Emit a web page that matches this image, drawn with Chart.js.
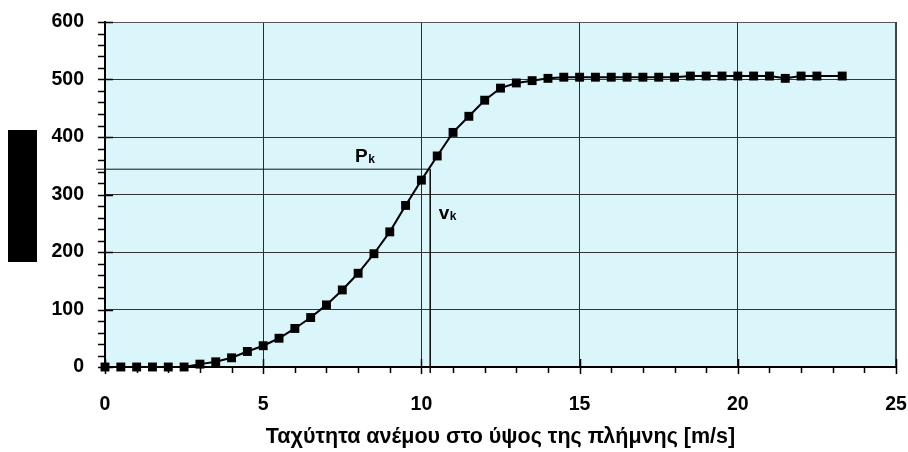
<!DOCTYPE html>
<html>
<head>
<meta charset="utf-8">
<script src="https://cdn.jsdelivr.net/npm/chart.js@4.4.1/dist/chart.umd.min.js"></script>
<style>
  html, body { margin: 0; padding: 0; background: #fff; }
  #wrap { width: 908px; height: 452px; }
</style>
</head>
<body>
<div id="wrap"><canvas id="powerCurve" width="908" height="452"></canvas></div>
<script>
// wind speed at hub height [m/s] and power [kW]
var speeds = [0, 0.5, 1, 1.5, 2, 2.5, 3, 3.5, 4, 4.5, 5, 5.5, 6, 6.5, 7, 7.5, 8, 8.5, 9, 9.5,
  10, 10.5, 11, 11.5, 12, 12.5, 13, 13.5, 14, 14.5, 15, 15.5, 16, 16.5, 17, 17.5, 18, 18.5,
  19, 19.5, 20, 20.5, 21, 21.5, 22, 22.5, 23.3];
var power = [0, 0, 0, 0, 0, 0, 5, 9, 16, 27, 37, 50, 67, 86, 108, 134, 163, 197, 235, 281,
  325, 367, 408, 436, 464, 485, 494, 498, 502, 504, 504, 504, 504, 504, 504, 504, 504, 506,
  506, 506, 506, 506, 506, 502, 506, 506, 506];

// P_k / v_k guide lines
var pkLineX = [-0.28, 10.28];
var pkLineY = [344, 344];
var vkLineX = [10.28, 10.28];
var vkLineY = [344, -10];

var xTicks = [0, 5, 10, 15, 20, 25];
var yTicks = [0, 100, 200, 300, 400, 500, 600];
var xTitle = 'Ταχύτητα ανέμου στο ύψος της πλήμνης [m/s]';
var yTitle = 'Ισχύς [kW]';

// label text, subscript, x value, y value (baseline)
var markLabels = [
  ['P', 'k', 7.9, 356],
  ['v', 'k', 10.55, 257]
];

function toPoints(xs, ys) {
  return xs.map(function(x, i) { return {x: x, y: ys[i]}; });
}

var FONT = '"Liberation Sans", Arial, sans-serif';

function noPad(s) {
  s.paddingLeft = 0; s.paddingRight = 0; s.paddingTop = 0; s.paddingBottom = 0;
}

var plotBackground = {
  id: 'plotBackground',
  beforeDraw: function(chart) {
    var a = chart.chartArea, ctx = chart.ctx;
    ctx.save();
    ctx.fillStyle = '#dbf6fa';
    ctx.fillRect(a.left, a.top, a.right - a.left, a.bottom - a.top);
    // covered y axis title box
    ctx.fillStyle = '#000';
    ctx.fillRect(8, 130, 29, 132);
    ctx.restore();
  }
};

var axisTicks = {
  id: 'axisTicks',
  afterDraw: function(chart) {
    var ctx = chart.ctx, a = chart.chartArea;
    var xs = chart.scales.x, ys = chart.scales.y;
    ctx.save();
    ctx.strokeStyle = '#000';
    ctx.lineWidth = 1.5;
    ctx.beginPath();
    for (var v = 0; v <= 600; v += 20) {
      var py = Math.round(ys.getPixelForValue(v)) + 0.5;
      if (v % 100 === 0) { ctx.moveTo(a.left - 7, py); ctx.lineTo(a.left + 8, py); }
      else { ctx.moveTo(a.left - 7, py); ctx.lineTo(a.left, py); }
    }
    for (var u = 0; u <= 25; u++) {
      var px = Math.round(xs.getPixelForValue(u)) + 0.5;
      if (u % 5 === 0) { ctx.moveTo(px, a.bottom - 8); ctx.lineTo(px, a.bottom + 7); }
      else { ctx.moveTo(px, a.bottom); ctx.lineTo(px, a.bottom + 6); }
    }
    ctx.stroke();

    // P_k and v_k labels
    ctx.fillStyle = '#000';
    ctx.textBaseline = 'alphabetic';
    markLabels.forEach(function(m) {
      var lx = xs.getPixelForValue(m[2]), ly = ys.getPixelForValue(m[3]);
      ctx.font = 'bold 19px ' + FONT;
      ctx.fillText(m[0], lx, ly);
      var w = ctx.measureText(m[0]).width;
      ctx.font = 'bold 12px ' + FONT;
      ctx.fillText(m[1], lx + w + 0.5, ly + 1);
    });
    ctx.restore();
  }
};

var ctx = document.getElementById('powerCurve');
var chart = new Chart(ctx, {
  type: 'line',
  data: {
    datasets: [
      {
        label: 'P',
        data: toPoints(speeds, power),
        borderColor: '#000',
        backgroundColor: '#000',
        borderWidth: 2,
        pointStyle: 'rect',
        pointRadius: 6.3,
        pointBorderWidth: 0,
        tension: 0,
        clip: false,
        order: 1
      },
      {
        label: 'Pk',
        data: toPoints(pkLineX, pkLineY),
        borderColor: '#111',
        borderWidth: 1,
        pointRadius: 0,
        clip: false,
        order: 2
      },
      {
        label: 'vk',
        data: toPoints(vkLineX, vkLineY),
        borderColor: '#111',
        borderWidth: 1,
        pointRadius: 0,
        clip: false,
        order: 2
      }
    ]
  },
  options: {
    responsive: false,
    animation: false,
    devicePixelRatio: 1,
    layout: { padding: { top: 22, right: 12, left: 0, bottom: 0 } },
    plugins: { legend: { display: false }, tooltip: { enabled: false } },
    scales: {
      x: {
        type: 'linear',
        min: 0,
        max: 25,
        afterBuildTicks: function(s) { s.ticks = xTicks.map(function(v) { return {value: v}; }); },
        afterFit: function(s) { s.height = 85; noPad(s); },
        ticks: { color: '#000', font: { family: FONT, size: 19.5, weight: 'bold' }, padding: 26, maxRotation: 0 },
        grid: {
          drawTicks: false,
          color: function(c) { return c.tick && c.tick.value === 25 ? '#444' : '#2a2a2a'; },
          lineWidth: function(c) { return c.tick && c.tick.value === 25 ? 2 : 1; }
        },
        border: { color: '#000', width: 2 },
        title: {
          display: true,
          text: xTitle,
          color: '#000',
          font: { family: FONT, size: 21.5, weight: 'bold' },
          padding: { top: 0, bottom: 2 }
        }
      },
      y: {
        min: 0,
        max: 600,
        afterBuildTicks: function(s) { s.ticks = yTicks.map(function(v) { return {value: v}; }); },
        afterFit: function(s) { s.width = 105; noPad(s); },
        ticks: { color: '#000', font: { family: FONT, size: 19.5, weight: 'bold' }, padding: 21 },
        grid: {
          drawTicks: false,
          color: function(c) { return c.tick && c.tick.value === 600 ? '#555' : '#333'; },
          lineWidth: 1
        },
        border: { color: '#000', width: 2 },
        title: {
          display: true,
          text: yTitle,
          color: '#000',
          font: { family: FONT, size: 18, weight: 'bold' },
          padding: { top: 10, bottom: 0 }
        }
      }
    }
  },
  plugins: [plotBackground, axisTicks]
});
</script>
</body>
</html>
